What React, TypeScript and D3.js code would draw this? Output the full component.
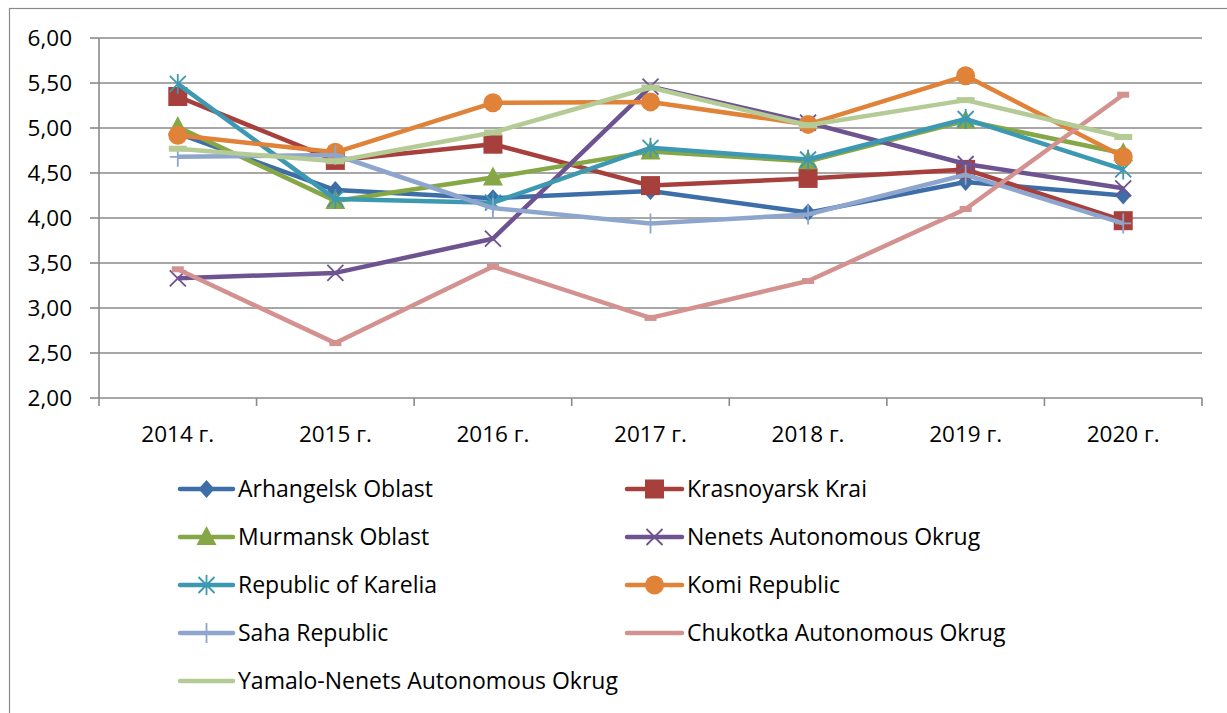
import React from "react";
import * as d3 from "d3";

const years = ["2014 г.", "2015 г.", "2016 г.", "2017 г.", "2018 г.", "2019 г.", "2020 г."];
const yTicks = [2, 2.5, 3, 3.5, 4, 4.5, 5, 5.5, 6];

const arhangelsk = [4.94, 4.31, 4.22, 4.3, 4.06, 4.4, 4.25];
const krasnoyarsk = [5.35, 4.64, 4.82, 4.36, 4.44, 4.54, 3.97];
const murmansk = [5.01, 4.19, 4.45, 4.74, 4.63, 5.08, 4.72];
const nenets = [3.33, 3.39, 3.77, 5.46, 5.06, 4.6, 4.33];
const karelia = [5.49, 4.21, 4.17, 4.78, 4.65, 5.1, 4.54];
const komi = [4.92, 4.73, 5.28, 5.29, 5.04, 5.58, 4.68];
const saha = [4.68, 4.7, 4.11, 3.94, 4.04, 4.48, 3.94];
const chukotka = [3.43, 2.61, 3.46, 2.89, 3.3, 4.1, 5.37];
const yamalo = [4.77, 4.63, 4.95, 5.45, 5.03, 5.31, 4.9];

type Marker = "diamond" | "square" | "triangle" | "x" | "star" | "circle" | "plus" | "dash" | "longdash";

const series: { name: string; values: number[]; color: string; marker: Marker }[] = [
  { name: "Arhangelsk Oblast", values: arhangelsk, color: "#3D6EA8", marker: "diamond" },
  { name: "Krasnoyarsk Krai", values: krasnoyarsk, color: "#A7403D", marker: "square" },
  { name: "Murmansk Oblast", values: murmansk, color: "#86A745", marker: "triangle" },
  { name: "Nenets Autonomous Okrug", values: nenets, color: "#6E5391", marker: "x" },
  { name: "Republic of Karelia", values: karelia, color: "#3C99B1", marker: "star" },
  { name: "Komi Republic", values: komi, color: "#E08238", marker: "circle" },
  { name: "Saha Republic", values: saha, color: "#8EA6CE", marker: "plus" },
  { name: "Chukotka Autonomous Okrug", values: chukotka, color: "#D3918F", marker: "dash" },
  { name: "Yamalo-Nenets Autonomous Okrug", values: yamalo, color: "#B5CB96", marker: "longdash" },
];

const FONT = "'Open Sans', sans-serif";

function MarkerShape({ type, x, y, color }: { type: Marker; x: number; y: number; color: string }) {
  switch (type) {
    case "diamond":
      return <path d={`M${x},${y - 9}L${x + 8},${y}L${x},${y + 9}L${x - 8},${y}Z`} fill={color} />;
    case "square":
      return <rect x={x - 9.5} y={y - 9.5} width={19} height={19} fill={color} />;
    case "triangle":
      return <path d={`M${x},${y - 11}L${x + 10},${y + 8}L${x - 10},${y + 8}Z`} fill={color} />;
    case "x":
      return (
        <path d={`M${x - 8},${y - 8}L${x + 8},${y + 8}M${x - 8},${y + 8}L${x + 8},${y - 8}`} stroke={color} strokeWidth={1.8} />
      );
    case "star":
      return (
        <path
          d={`M${x - 8},${y - 8}L${x + 8},${y + 8}M${x - 8},${y + 8}L${x + 8},${y - 8}M${x},${y - 10}L${x},${y + 10}`}
          stroke={color}
          strokeWidth={1.8}
        />
      );
    case "circle":
      return <circle cx={x} cy={y} r={9.5} fill={color} />;
    case "plus":
      return <path d={`M${x - 8},${y}L${x + 8},${y}M${x},${y - 10}L${x},${y + 10}`} stroke={color} strokeWidth={1.8} />;
    case "dash":
      return <rect x={x - 6} y={y - 3} width={12} height={6} fill={color} />;
    case "longdash":
      return <rect x={x - 9} y={y - 3} width={18} height={6} fill={color} />;
  }
  return null;
}

export default function App() {
  const left = 99;
  const right = 1202;
  const top = 38;
  const bottom = 398;

  const xBand = d3.scaleBand<string>().domain(years).range([left, right]).paddingInner(0).paddingOuter(0);
  const bw = xBand.bandwidth();
  const xc = (i: number) => (xBand(years[i]) as number) + bw / 2;
  const y = d3.scaleLinear().domain([2, 6]).range([bottom, top]);

  const line = d3
    .line<number>()
    .x((_, i) => xc(i))
    .y((d) => y(d));

  const fmt = (v: number) => v.toFixed(2).replace(".", ",");

  const legendRows = [489, 537, 585, 633, 681];
  const legendCols = [180, 627];

  return (
    <svg width={1227} height={713} style={{ position: "absolute", left: 0, top: 0, background: "#fff" }} fontFamily={FONT}>
      <rect x={0} y={0} width={1227} height={713} fill="#fff" />
      <rect x={9.5} y={8.5} width={1240} height={720} fill="none" stroke="#8a8a8a" strokeWidth={1.2} />

      {/* gridlines */}
      {yTicks.map((t) => (
        <line key={"g" + t} x1={left} x2={right} y1={y(t)} y2={y(t)} stroke="#8a8a8a" strokeWidth={1.6} />
      ))}
      {/* y axis */}
      <line x1={left} x2={left} y1={top} y2={bottom} stroke="#8a8a8a" strokeWidth={1.6} />
      {yTicks.map((t) => (
        <g key={"yt" + t}>
          <line x1={left - 9} x2={left} y1={y(t)} y2={y(t)} stroke="#8a8a8a" strokeWidth={1.6} />
          <text x={72} y={y(t)} dy="0.35em" textAnchor="end" fontSize={22.5} fill="#000">
            {fmt(t)}
          </text>
        </g>
      ))}
      {/* x axis ticks */}
      {d3.range(years.length + 1).map((i) => {
        const xx = left + i * bw;
        return <line key={"xt" + i} x1={xx} x2={xx} y1={bottom} y2={bottom + 8} stroke="#8a8a8a" strokeWidth={1.6} />;
      })}
      {years.map((yr, i) => (
        <text key={yr} x={xc(i)} y={442} textAnchor="middle" fontSize={22.5} fill="#000">
          {yr}
        </text>
      ))}

      {/* series */}
      {series.map((s) => (
        <g key={s.name}>
          <path d={line(s.values) || ""} fill="none" stroke={s.color} strokeWidth={4.5} strokeLinejoin="round" />
          {s.values.map((v, i) => (
            <MarkerShape key={i} type={s.marker} x={xc(i)} y={y(v)} color={s.color} />
          ))}
        </g>
      ))}

      {/* legend */}
      {series.map((s, i) => {
        const col = i % 2;
        const row = Math.floor(i / 2);
        const lx = legendCols[col];
        const ly = legendRows[row];
        const lineLen = col === 0 ? 53 : 55;
        return (
          <g key={"lg" + s.name}>
            <line x1={lx} x2={lx + lineLen} y1={ly} y2={ly} stroke={s.color} strokeWidth={4.5} strokeLinecap="round" />
            {s.marker !== "dash" && s.marker !== "longdash" && (
              <MarkerShape type={s.marker} x={lx + lineLen / 2} y={ly} color={s.color} />
            )}
            <text x={lx + lineLen + 5} y={ly} dy="0.36em" fontSize={23} fill="#000">
              {s.name}
            </text>
          </g>
        );
      })}
    </svg>
  );
}
